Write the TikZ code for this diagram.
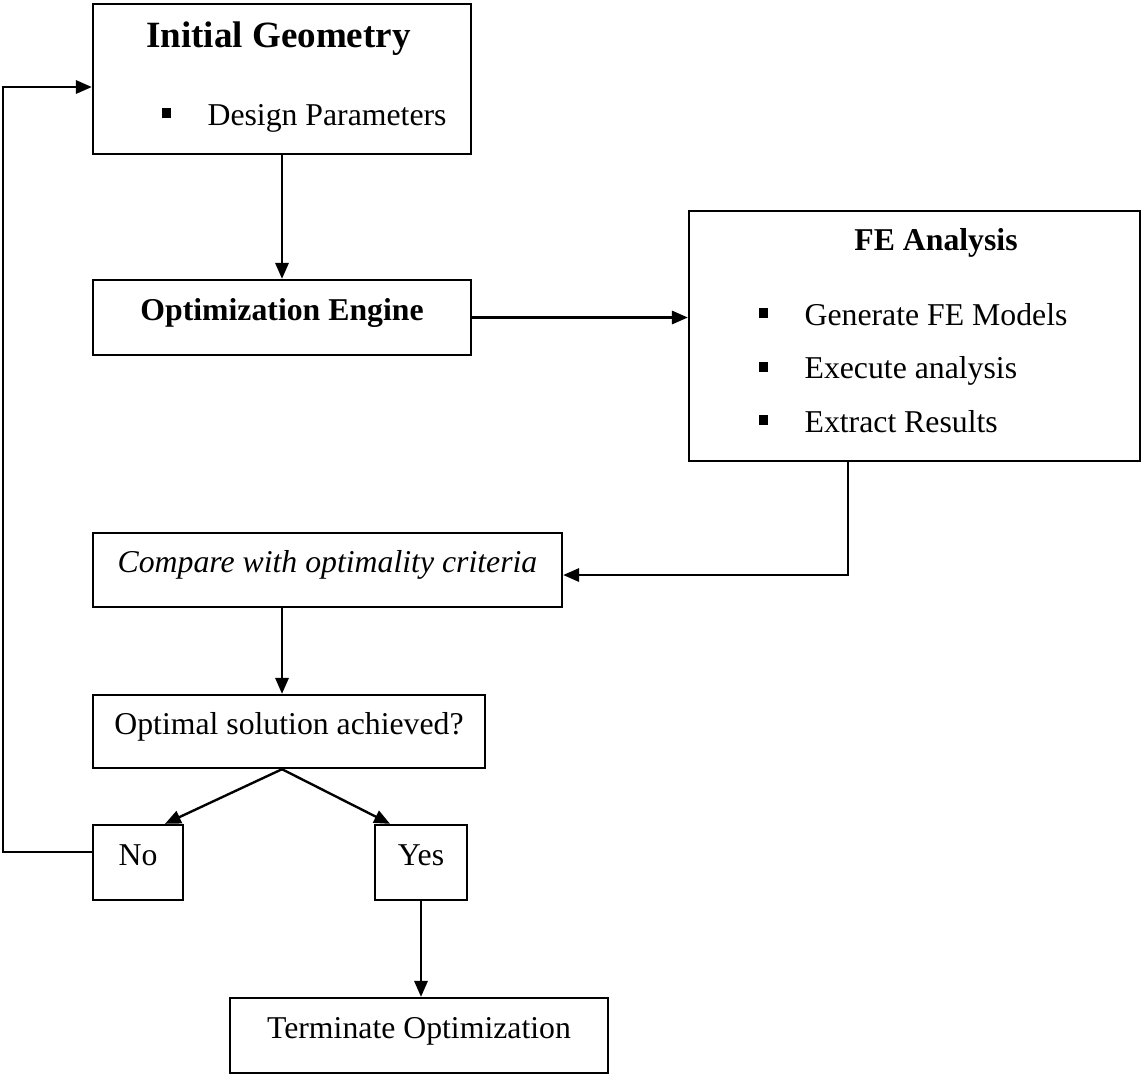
\documentclass[tikz,border=0pt,12pt]{standalone}
\usepackage{fontspec}
\setmainfont{Liberation Serif}
\usetikzlibrary{arrows.meta,calc,positioning}

\newcommand{\pxs}{0.3778pt}
\newcommand{\sqbullet}{\makebox[17.4pt][l]{\rule[2.6pt]{3.7pt}{3.7pt}}}

\begin{document}
\begin{tikzpicture}[x=0.3778pt, y=-0.3778pt, >={Triangle[length=6pt,width=5pt]},
    box/.style 2 args={draw, line width=0.9pt, minimum width=#1*\pxs, minimum height=#2*\pxs,
        inner sep=0pt, text height=7pt, text depth=5pt},
    conn/.style={line width=0.9pt},
    item/.style={anchor=base west, inner sep=0pt}]
    \useasboundingbox (0,0) rectangle (1142,1075);

    % top box
    \node[box={378}{150}] (geom) at (282,79) {};
    \node[anchor=base, inner sep=0pt, font=\fontsize{14}{16}\selectfont\bfseries] (geomtitle) at (278.5,47) {Initial Geometry};
    \node[item] (geomitem) at (161,125) {\sqbullet Design Parameters};

    \node[box={378}{75}, font=\bfseries] (opt) at (282,317.5) {Optimization Engine};

    % analysis box
    \node[box={451}{250}] (fe) at (914.5,336) {};
    \node[anchor=base, inner sep=0pt, font=\bfseries] (fetitle) at (936,250) {FE Analysis};
    \foreach \txt [count=\k] in {Generate FE Models, Execute analysis, Extract Results}
        \node[item] (feitem\k) at (758,{325+(\k-1)*53.5}) {\sqbullet\txt};

    % decision part
    \node[box={469}{74}, font=\itshape] (cmp) at (327.5,570) {Compare with optimality criteria};
    \node[box={392}{73}] (optimal) at (289,731.5) {Optimal solution achieved?};
    \node[box={90}{75}] (no) at (138,862.5) {No};
    \node[box={92}{75}] (yes) at (421,862.5) {Yes};
    \node[box={378}{75}] (term) at (419,1035.5) {Terminate Optimization};

    % connectors
    \draw[conn,->] (geom) -- (opt);
    \draw[conn,->] (opt.east) -- (opt.east -| fe.west);
    \draw[conn,->] ($(fe.south)+(-66.5,0)$) |- ($(cmp.east)+(0,5)$);
    \draw[conn,->] (cmp.south -| opt.south) -- (optimal.north -| opt.south);
    \draw[conn,->] (optimal.south -| opt.south) -- ($(no.north)+(27,0)$);
    \draw[conn,->] (optimal.south -| opt.south) -- ($(yes.north)+(-31,0)$);
    \draw[conn,->] (yes) -- (yes |- term.north);
    \draw[conn,->] ($(no.west)+(0,-10.5)$) -- ($(no.west)+(-89,-10.5)$) |- ($(geom.west)+(0,8)$);
\end{tikzpicture}
\end{document}
